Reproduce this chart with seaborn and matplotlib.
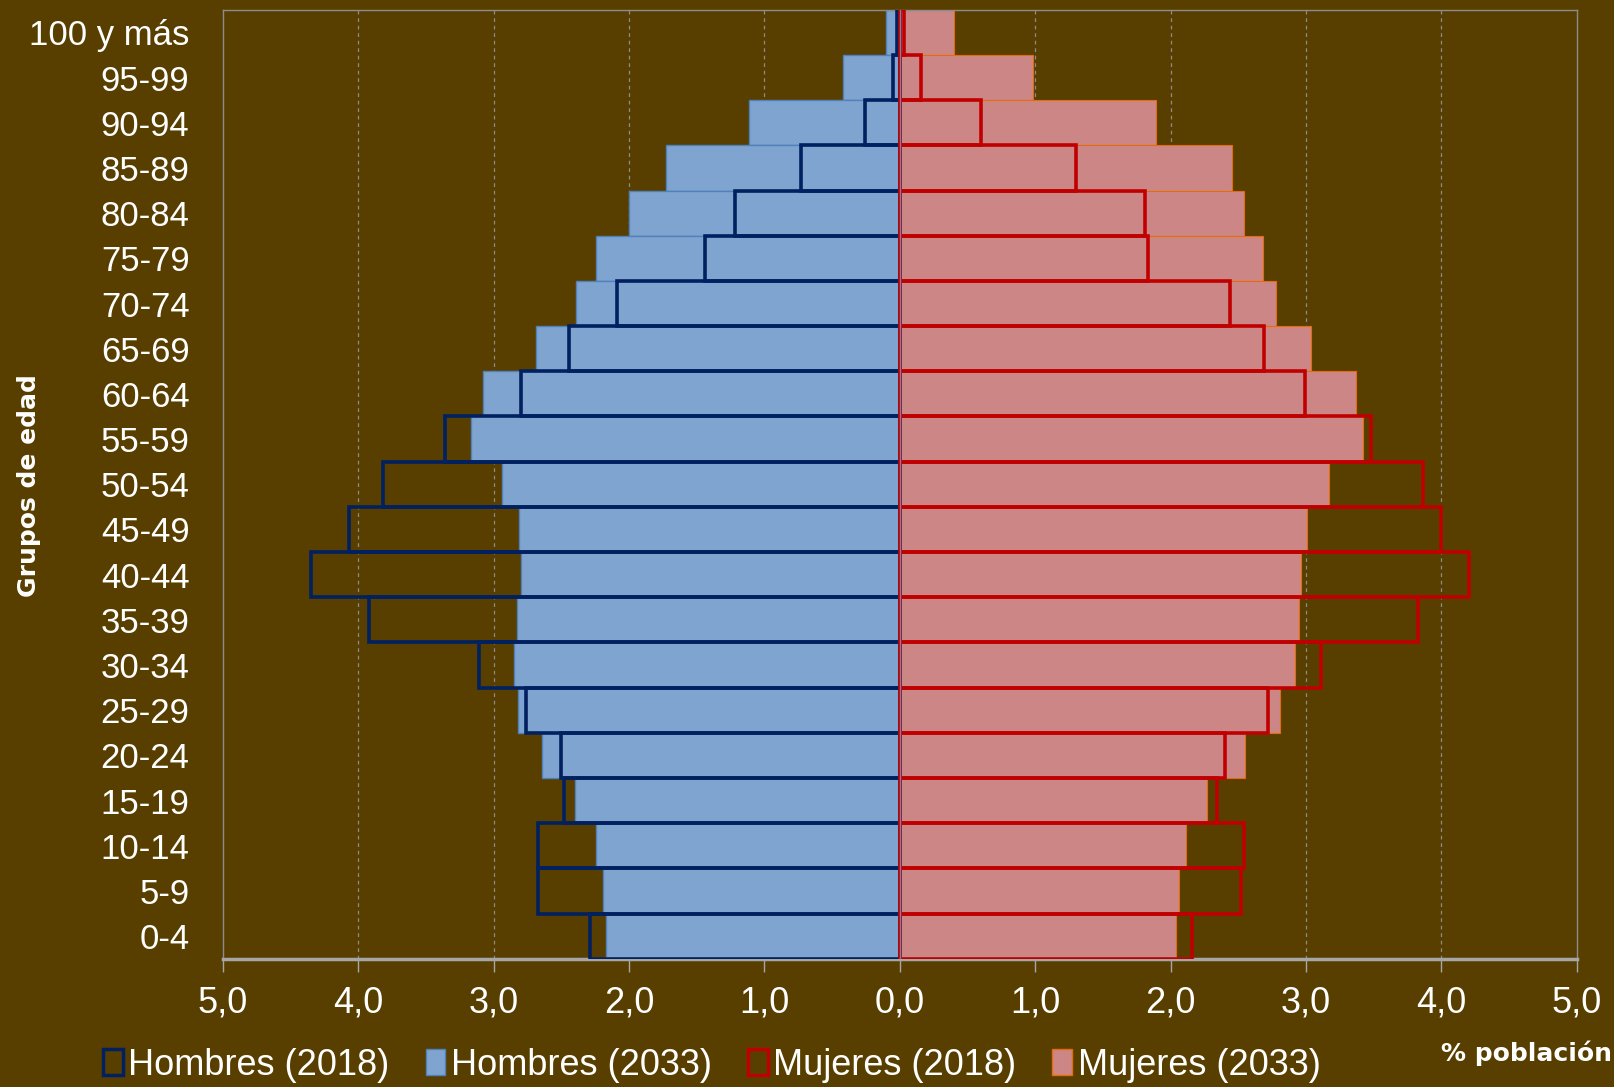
import matplotlib
matplotlib.use("Agg")
import matplotlib.pyplot as plt
from matplotlib.patches import Patch
from matplotlib.ticker import FuncFormatter, MultipleLocator
import pandas as pd
import seaborn as sns

# grupos de edad, de arriba (100 y más) hacia abajo (0-4)
grupos = ["100 y más", "95-99", "90-94", "85-89", "80-84", "75-79", "70-74",
          "65-69", "60-64", "55-59", "50-54", "45-49", "40-44", "35-39",
          "30-34", "25-29", "20-24", "15-19", "10-14", "5-9", "0-4"]

hombres_2018 = [0.02, 0.05, 0.26, 0.73, 1.22, 1.44, 2.09, 2.44, 2.80, 3.36, 3.82,
                4.07, 4.35, 3.92, 3.11, 2.76, 2.50, 2.48, 2.67, 2.67, 2.29]
hombres_2033 = [0.10, 0.42, 1.11, 1.73, 2.00, 2.24, 2.39, 2.69, 3.08, 3.17, 2.94,
                2.81, 2.80, 2.83, 2.85, 2.82, 2.64, 2.40, 2.24, 2.19, 2.17]
mujeres_2018 = [0.03, 0.16, 0.60, 1.30, 1.81, 1.83, 2.44, 2.69, 2.99, 3.48, 3.86,
                4.00, 4.20, 3.83, 3.11, 2.72, 2.40, 2.34, 2.54, 2.52, 2.16]
mujeres_2033 = [0.40, 0.98, 1.89, 2.45, 2.54, 2.68, 2.78, 3.04, 3.37, 3.42, 3.17,
                3.01, 2.96, 2.95, 2.92, 2.81, 2.55, 2.27, 2.11, 2.06, 2.04]

df = pd.DataFrame({
    "grupo": grupos,
    "h2018": [-v for v in hombres_2018],
    "h2033": [-v for v in hombres_2033],
    "m2018": mujeres_2018,
    "m2033": mujeres_2033,
})

BG = "#583F00"
AZUL_OSC = "#002060"
AZUL = "#80A4D0"
ROJO = "#C00000"
ROSA = "#CD8686"

sns.set_style("dark")
plt.rcParams["font.family"] = ["Liberation Sans Narrow", "Liberation Sans", "DejaVu Sans"]

fig = plt.figure(figsize=(16.14, 10.87), dpi=100, facecolor=BG)
ax = fig.add_axes([0.138, 0.118, 0.839, 0.873])
ax.set_facecolor(BG)

sns.barplot(data=df, x="h2033", y="grupo", order=grupos, color=AZUL, saturation=1,
            width=1, edgecolor="#4F81BD", linewidth=1, ax=ax, zorder=2)
sns.barplot(data=df, x="m2033", y="grupo", order=grupos, color=ROSA, saturation=1,
            width=1, edgecolor="#E46C0A", linewidth=0.8, ax=ax, zorder=2)
sns.barplot(data=df, x="h2018", y="grupo", order=grupos, color=AZUL_OSC, saturation=1,
            width=1, fill=False, linewidth=2.6, ax=ax, zorder=3)
sns.barplot(data=df, x="m2018", y="grupo", order=grupos, color=ROJO, saturation=1,
            width=1, fill=False, linewidth=2.6, ax=ax, zorder=3)

ax.set_xlim(-5, 5)
ax.xaxis.set_major_locator(MultipleLocator(1))
ax.xaxis.set_major_formatter(FuncFormatter(lambda v, p: f"{abs(v):.1f}".replace(".", ",")))
ax.set_axisbelow(True)
ax.grid(False)
for xv in [-4, -3, -2, -1, 1, 2, 3, 4]:
    ax.axvline(xv, color="#8C8C8C", lw=0.9, ls=(0, (3, 3)), zorder=0)
ax.axvline(0, color="#7F7F9F", lw=1, zorder=4)

for s in ["top", "right", "left"]:
    ax.spines[s].set_visible(True)
    ax.spines[s].set_color("#8C8C8C")
    ax.spines[s].set_linewidth(1)
ax.spines["bottom"].set_color("#A6A6A6")
ax.spines["bottom"].set_linewidth(2.5)

ax.tick_params(axis="x", colors="#A6A6A6", labelcolor="white", labelsize=26,
               length=9, width=1, pad=10, direction="out", bottom=True)
ax.tick_params(axis="y", labelcolor="white", labelsize=25, length=0, pad=24)
ax.set_xlabel("")
ax.set_ylabel("")

fig.text(0.018, 0.553, "Grupos de edad", rotation=90, color="white", fontsize=18,
         fontweight="bold", family="DejaVu Sans", ha="center", va="center")
fig.text(0.946, 0.031, "% población", color="white", fontsize=18,
         fontweight="bold", family="DejaVu Sans", ha="center", va="center")

handles = [
    Patch(facecolor="none", edgecolor=AZUL_OSC, linewidth=2.5, label="Hombres (2018)"),
    Patch(facecolor=AZUL, edgecolor="#4F81BD", linewidth=1, label="Hombres (2033)"),
    Patch(facecolor="none", edgecolor=ROJO, linewidth=2.5, label="Mujeres (2018)"),
    Patch(facecolor=ROSA, edgecolor="#E46C0A", linewidth=1, label="Mujeres (2033)"),
]
leg = fig.legend(handles=handles, loc="center", bbox_to_anchor=(0.441, 0.020), ncol=4,
                 frameon=False, fontsize=26, handlelength=0.55, handleheight=0.7,
                 handletextpad=0.15, columnspacing=1.0, labelcolor="white")

fig.savefig("out.png", dpi=100, facecolor=BG)
